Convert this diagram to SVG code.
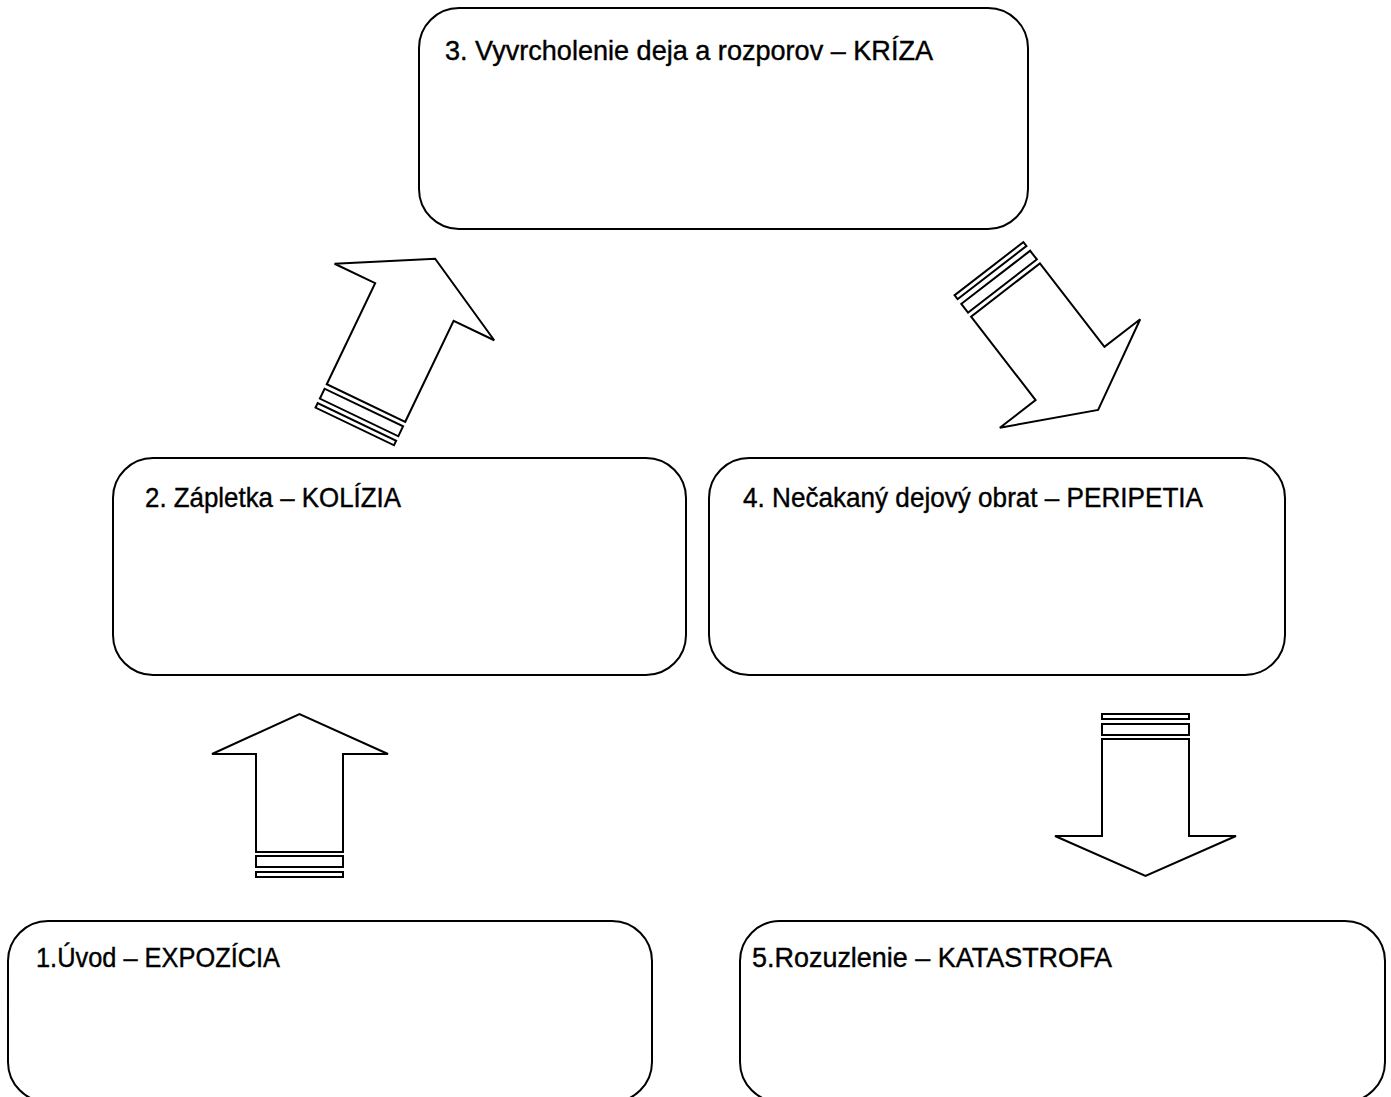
<svg xmlns="http://www.w3.org/2000/svg" width="1391" height="1097" viewBox="0 0 1391 1097">
<style>
.box{fill:#fff;stroke:#000;stroke-width:2}
.arr{fill:#fff;stroke:#000;stroke-width:2;stroke-linejoin:miter}
.lbl{font-family:"Liberation Sans Narrow","Liberation Sans",Arial,sans-serif;font-size:28px;fill:#000;stroke:#000;stroke-width:0.4}
</style>
<rect width="1391" height="1097" fill="#fff"/>
<g id="connectors">
  <g id="arrow-1-2">
    <polygon class="arr" points="256,852 256,754 212,754 299.5,714 388,754 343,754 343,852"/>
    <rect class="arr" x="256" y="856" width="87" height="11"/>
    <rect class="arr" x="256" y="872" width="87" height="5"/>
  </g>
  <g id="arrow-2-3" transform="translate(366,403) rotate(25.6)">
    <polygon class="arr" points="-43.5,0 -43.5,-112 -88.5,-112 0,-160 88.5,-112 43.5,-112 43.5,0"/>
    <rect class="arr" x="-43.5" y="5" width="87" height="11"/>
    <rect class="arr" x="-43.5" y="21" width="87" height="5"/>
  </g>
  <g id="arrow-3-4" transform="translate(1005.5,290) rotate(-37.7)">
    <polygon class="arr" points="-43.5,0 -43.5,105.5 -88.7,105.5 0,151.5 88.7,105.5 43.5,105.5 43.5,0"/>
    <rect class="arr" x="-43.5" y="-16" width="87" height="11"/>
    <rect class="arr" x="-43.5" y="-27" width="87" height="5"/>
  </g>
  <g id="arrow-4-5">
    <polygon class="arr" points="1102,739 1102,836 1055,836 1145.5,876 1236,836 1189,836 1189,739"/>
    <rect class="arr" x="1102" y="724" width="87" height="11"/>
    <rect class="arr" x="1102" y="714" width="87" height="5"/>
  </g>
</g>
<g id="node-3">
  <rect class="box" x="419" y="8" width="609" height="221" rx="40" ry="40"/>
  <text class="lbl" x="445" y="60" textLength="488" lengthAdjust="spacingAndGlyphs">3. Vyvrcholenie deja a rozporov – KRÍZA</text>
</g>
<g id="node-2">
  <rect class="box" x="113" y="458" width="573" height="217" rx="40" ry="40"/>
  <text class="lbl" x="145" y="507" textLength="256" lengthAdjust="spacingAndGlyphs">2. Zápletka – KOLÍZIA</text>
</g>
<g id="node-4">
  <rect class="box" x="709" y="458" width="576" height="217" rx="40" ry="40"/>
  <text class="lbl" x="743" y="507" textLength="460" lengthAdjust="spacingAndGlyphs">4. Nečakaný dejový obrat – PERIPETIA</text>
</g>
<g id="node-1">
  <rect class="box" x="8" y="921" width="644" height="181" rx="40" ry="40"/>
  <text class="lbl" x="36" y="967" textLength="244" lengthAdjust="spacingAndGlyphs">1.Úvod – EXPOZÍCIA</text>
</g>
<g id="node-5">
  <rect class="box" x="740" y="921" width="645" height="181" rx="40" ry="40"/>
  <text class="lbl" x="752" y="967" textLength="360" lengthAdjust="spacingAndGlyphs">5.Rozuzlenie – KATASTROFA</text>
</g>
</svg>
